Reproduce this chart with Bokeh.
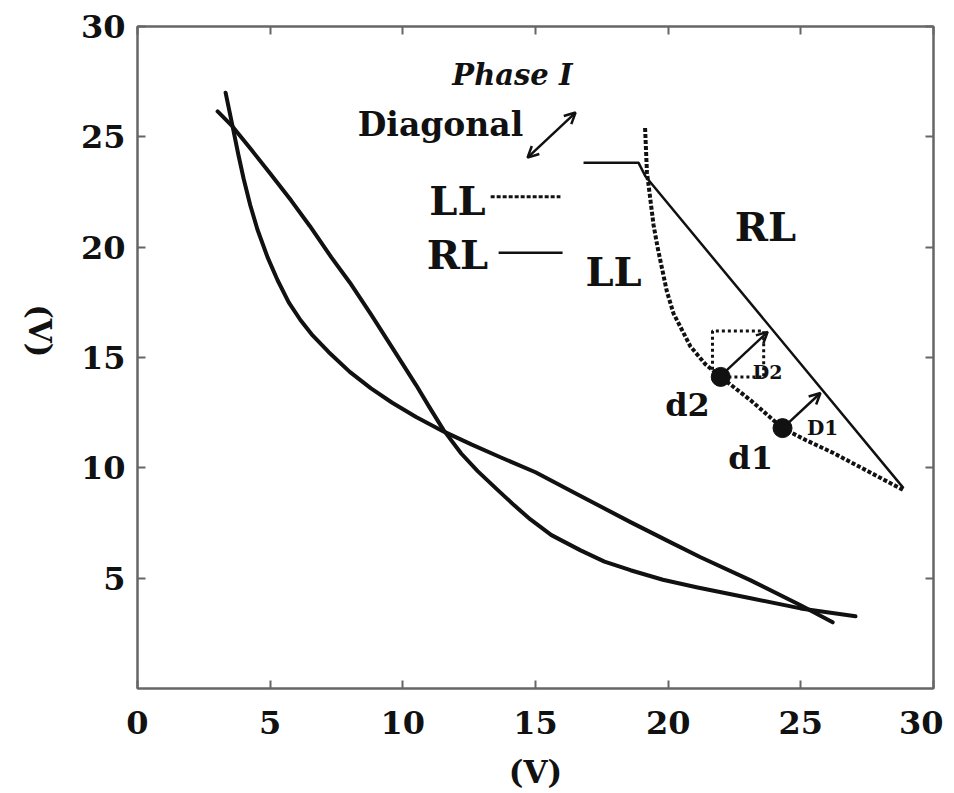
import math
from bokeh.plotting import figure
from bokeh.models import Label, Arrow, OpenHead, LinearAxis, FixedTicker, Range1d
from bokeh.embed import file_html
from bokeh.resources import INLINE

# ---- data ----
curve_a_x = [3.32, 3.58, 3.80, 4.00, 4.25, 4.52, 4.90, 5.28, 5.70, 6.14, 6.60, 7.20, 8.00, 8.80, 9.60,
             10.50, 11.53, 12.60, 13.70, 15.00, 16.50, 18.58, 20.00, 21.22, 23.11, 24.99, 26.20]
curve_a_y = [27.00, 25.50, 24.20, 23.10, 21.90, 20.80, 19.55, 18.50, 17.50, 16.70, 16.00, 15.25, 14.35, 13.60, 12.95,
             12.30, 11.65, 11.05, 10.47, 9.80, 8.85, 7.54, 6.68, 5.95, 4.90, 3.77, 3.00]

curve_b_x = [3.02, 3.58, 4.30, 5.00, 5.80, 6.50, 7.30, 8.00, 8.80, 9.60, 10.50, 11.00, 11.53, 12.20, 12.82,
             13.57, 14.20, 14.81, 15.60, 16.70, 17.60, 18.58, 19.80, 21.11, 23.11, 24.99, 27.06]
curve_b_y = [26.15, 25.47, 24.40, 23.34, 22.10, 20.95, 19.55, 18.40, 16.95, 15.45, 13.75, 12.75, 11.72, 10.65, 9.85,
             9.00, 8.30, 7.66, 6.95, 6.26, 5.75, 5.36, 4.93, 4.58, 4.09, 3.63, 3.27]

rl_x = [16.81, 18.88, 19.15, 28.87]
rl_y = [23.83, 23.83, 23.20, 9.08]

ll_x = [19.13, 19.20, 19.45, 19.60, 19.95, 20.20, 20.84, 21.40, 21.98, 23.10, 24.31, 25.20, 26.23, 27.60, 28.87]
ll_y = [25.40, 23.40, 21.00, 20.00, 18.00, 17.00, 15.50, 14.70, 14.12, 13.07, 11.80, 11.25, 10.67, 9.80, 8.99]

dot_x = [24.31, 21.98]
dot_y = [11.80, 14.12]

box_x = [21.67, 21.67, 23.60, 23.60, 22.20]
box_y = [14.45, 16.20, 16.20, 14.12, 14.12]

x_ticks = [0, 5, 10, 15, 20, 25, 30]
y_ticks = [5, 10, 15, 20, 25, 30]

FONT = "DejaVu Serif"
INK = "#111111"
AXC = "#666666"

p = figure(frame_width=796, frame_height=662, output_backend="svg", toolbar_location=None,
           x_range=Range1d(0, 30), y_range=Range1d(0, 30),
           min_border_left=137, min_border_right=10, min_border_top=26, min_border_bottom=90)
p.background_fill_color = "white"
p.border_fill_color = "white"
p.outline_line_color = AXC
p.outline_line_width = 2
p.grid.visible = False

def style_axis(ax, show_labels):
    ax.axis_line_color = AXC
    ax.axis_line_width = 2
    ax.major_tick_line_color = AXC
    ax.major_tick_line_width = 2
    ax.major_tick_in = 8
    ax.major_tick_out = 0
    ax.minor_tick_line_color = None
    if show_labels:
        ax.major_label_text_font = FONT
        ax.major_label_text_font_style = "bold"
        ax.major_label_text_font_size = "32px"
        ax.major_label_text_color = INK
    else:
        ax.major_label_text_color = None
        ax.major_label_text_font_size = "1px"
        ax.major_label_standoff = 0

p.xaxis.ticker = FixedTicker(ticks=x_ticks)
p.yaxis.ticker = FixedTicker(ticks=y_ticks)
style_axis(p.xaxis[0], True)
style_axis(p.yaxis[0], True)
p.xaxis.major_label_standoff = 22
p.yaxis.major_label_standoff = 12
for ax in (p.xaxis[0], p.yaxis[0]):
    ax.axis_label = "(V)"
    ax.axis_label_text_font = FONT
    ax.axis_label_text_font_style = "bold"
    ax.axis_label_text_font_size = "31px"
    ax.axis_label_text_color = INK
p.xaxis.axis_label_standoff = 17
p.yaxis.axis_label_standoff = 38
try:
    p.yaxis[0].axis_label_orientation = -math.pi / 2
except Exception:
    pass

top_ax = LinearAxis(ticker=FixedTicker(ticks=x_ticks))
right_ax = LinearAxis(ticker=FixedTicker(ticks=y_ticks))
style_axis(top_ax, False)
style_axis(right_ax, False)
p.add_layout(top_ax, "above")
p.add_layout(right_ax, "right")

# main curves
p.line(curve_a_x, curve_a_y, line_color=INK, line_width=4, line_join="round", line_cap="round")
p.line(curve_b_x, curve_b_y, line_color=INK, line_width=4, line_join="round", line_cap="round")

# RL / LL construction
p.line(rl_x, rl_y, line_color=INK, line_width=2.5)
p.line(ll_x, ll_y, line_color=INK, line_width=4, line_dash="4 2")
p.line(box_x, box_y, line_color=INK, line_width=3, line_dash="3 3")
p.scatter(dot_x, dot_y, size=19, fill_color=INK, line_color=INK)

# legend samples
p.line([13.31, 15.94], [22.29, 22.29], line_color=INK, line_width=3, line_dash="4 2")
p.line([13.61, 16.02], [19.75, 19.75], line_color=INK, line_width=2.5)

# arrows
p.add_layout(Arrow(start=OpenHead(size=11, line_width=2.5, line_color=INK),
                   end=OpenHead(size=11, line_width=2.5, line_color=INK),
                   x_start=14.70, y_start=24.06, x_end=16.51, y_end=26.10,
                   line_width=2.5, line_color=INK))
p.add_layout(Arrow(end=OpenHead(size=11, line_width=2.5, line_color=INK),
                   x_start=22.10, y_start=14.30, x_end=23.75, y_end=16.16,
                   line_width=2.5, line_color=INK))
p.add_layout(Arrow(end=OpenHead(size=11, line_width=2.5, line_color=INK),
                   x_start=24.45, y_start=11.95, x_end=25.74, y_end=13.39,
                   line_width=2.5, line_color=INK))

def lab(txt, x, y, size, style="bold", angle=0.0):
    p.add_layout(Label(x=x, y=y, text=txt, text_font=FONT, text_font_style=style,
                       text_font_size=size, text_color=INK, text_align="center",
                       text_baseline="middle", angle=angle))

lab("Phase I", 14.13, 27.78, "29px", "bold italic")
lab("Diagonal", 11.42, 25.55, "33px")
lab("LL", 12.06, 22.10, "40px")
lab("RL", 12.06, 19.65, "40px")
lab("LL", 17.94, 18.88, "40px")
lab("RL", 23.67, 20.93, "40px")
lab("d2", 20.73, 12.85, "32px")
lab("d1", 23.11, 10.44, "32px")
lab("D2", 23.75, 14.34, "19px")
lab("D1", 25.82, 11.80, "20px")

open("out.html", "w").write(file_html(p, INLINE))
